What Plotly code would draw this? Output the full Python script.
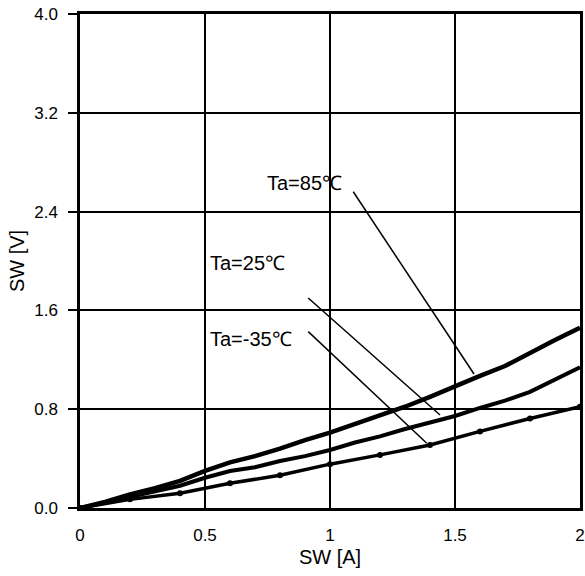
import plotly.graph_objects as go

# Data
x_85 = [0, 0.1, 0.2, 0.3, 0.4, 0.5, 0.6, 0.7, 0.8, 0.9, 1.0, 1.1, 1.2, 1.3, 1.4, 1.5, 1.6, 1.7, 1.8, 1.9, 2.0]
y_85 = [0, 0.05, 0.11, 0.16, 0.22, 0.30, 0.37, 0.42, 0.48, 0.55, 0.61, 0.68, 0.75, 0.82, 0.90, 0.99, 1.07, 1.15, 1.26, 1.36, 1.46]

x_25 = [0, 0.1, 0.2, 0.3, 0.4, 0.5, 0.6, 0.7, 0.8, 0.9, 1.0, 1.1, 1.2, 1.3, 1.4, 1.5, 1.6, 1.7, 1.8, 1.9, 2.0]
y_25 = [0, 0.045, 0.09, 0.13, 0.18, 0.245, 0.30, 0.33, 0.38, 0.42, 0.47, 0.53, 0.58, 0.64, 0.69, 0.745, 0.81, 0.87, 0.94, 1.04, 1.14]

x_m35 = [0, 0.2, 0.4, 0.6, 0.8, 1.0, 1.2, 1.4, 1.6, 1.8, 2.0]
y_m35 = [0, 0.07, 0.12, 0.20, 0.265, 0.355, 0.43, 0.51, 0.62, 0.725, 0.82]

labels = ["Ta=85℃", "Ta=25℃", "Ta=-35℃"]
label_x = [0.74, 0.512, 0.512]
label_y = [2.63, 1.98, 1.37]
leader_x0 = [1.093, 0.913, 0.913]
leader_y0 = [2.561, 1.70, 1.428]
leader_x1 = [1.576, 1.44, 1.387]
leader_y1 = [1.085, 0.753, 0.524]

x_ticks = [0, 0.5, 1, 1.5, 2]
x_ticklabels = ["0", "0.5", "1", "1.5", "2"]
y_ticks = [0, 0.8, 1.6, 2.4, 3.2, 4.0]
y_ticklabels = ["0.0", "0.8", "1.6", "2.4", "3.2", "4.0"]

FONT = "Liberation Sans, Arial, sans-serif"

fig = go.Figure()
fig.add_trace(go.Scatter(x=x_85, y=y_85, mode="lines",
                         line=dict(color="black", width=4.5), showlegend=False))
fig.add_trace(go.Scatter(x=x_25, y=y_25, mode="lines",
                         line=dict(color="black", width=4), showlegend=False))
fig.add_trace(go.Scatter(x=x_m35, y=y_m35, mode="lines+markers",
                         line=dict(color="black", width=3.5),
                         marker=dict(color="black", size=6), showlegend=False))

for i in range(len(labels)):
    fig.add_shape(type="line", x0=leader_x0[i], y0=leader_y0[i],
                  x1=leader_x1[i], y1=leader_y1[i], xref="x", yref="y",
                  line=dict(color="black", width=1.5))
    fig.add_annotation(x=label_x[i], y=label_y[i], text=labels[i], showarrow=False,
                       xanchor="left", yanchor="middle", xref="x", yref="y",
                       font=dict(family=FONT, size=20, color="black"))

fig.update_layout(
    width=585, height=576,
    margin=dict(l=80, r=5, t=14, b=68, autoexpand=False),
    paper_bgcolor="white", plot_bgcolor="white",
    font=dict(family=FONT, size=17, color="black"),
)
fig.update_xaxes(range=[0, 2], tickvals=x_ticks, ticktext=x_ticklabels,
                 showgrid=True, gridcolor="black", gridwidth=2,
                 showline=True, linecolor="black", linewidth=2.5, mirror=True,
                 zeroline=False, ticks="", automargin=False, ticklabeloverflow="allow",
                 ticklabelstandoff=10,
                 title=dict(text="SW [A]", standoff=6))
fig.update_yaxes(range=[0, 4], tickvals=y_ticks, ticktext=y_ticklabels,
                 showgrid=True, gridcolor="black", gridwidth=2,
                 showline=True, linecolor="black", linewidth=2.5, mirror=True,
                 zeroline=False, ticks="outside", ticklen=9, tickwidth=2, tickcolor="black",
                 ticklabelstandoff=7, automargin=False, ticklabeloverflow="allow",
                 title=dict(text="SW [V]", standoff=5))

fig.write_html("out.html", config={"displayModeBar": False},
               post_script="document.body.style.margin='0';")
